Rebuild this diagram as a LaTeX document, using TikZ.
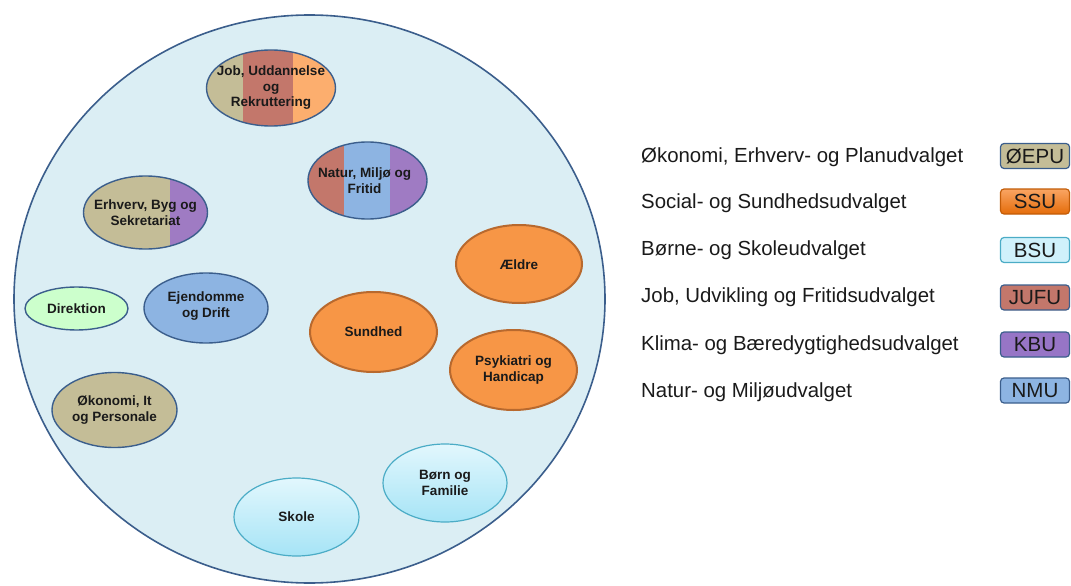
\documentclass[tikz,border=0pt]{standalone}
\usepackage{fontspec}
\setmainfont{Liberation Sans}
\usetikzlibrary{shapes.geometric}
\definecolor{bgfill}{HTML}{DBEEF4}
\definecolor{bgline}{HTML}{3B5E8C}
\definecolor{tanc}{HTML}{C4BD97}
\definecolor{redc}{HTML}{C3776B}
\definecolor{orangec}{HTML}{F79646}
\definecolor{orangeline}{HTML}{B8692E}
\definecolor{lorangec}{HTML}{FCAE6E}
\definecolor{bluec}{HTML}{8DB4E2}
\definecolor{purplec}{HTML}{9F7BC3}
\definecolor{greenc}{HTML}{CCFFCC}
\definecolor{cyantop}{HTML}{E2F7FD}
\definecolor{cyanbot}{HTML}{A6E4F6}
\definecolor{cyanline}{HTML}{4BACC6}
\definecolor{ssutop}{HTML}{FAA563}
\definecolor{ssubot}{HTML}{E46C0A}
\definecolor{txt}{HTML}{1A1A1A}
\tikzset{
  unit/.style={ellipse, draw=bgline, line width=1.4pt, inner sep=0pt},
  orangeunit/.style={unit, fill=orangec, draw=orangeline, line width=2pt},
  cyanunit/.style={unit, top color=cyantop, bottom color=cyanbot, draw=cyanline, line width=1.2pt},
  lbl/.style={inner sep=0pt, align=center, font=\fontsize{13.5}{15.5}\selectfont\bfseries, text=txt},
  legtext/.style={anchor=west, inner sep=0pt, font=\fontsize{20.4}{22}\selectfont, text=txt},
  legbox/.style={rounded corners=3.5pt, minimum width=69, minimum height=25, inner sep=0pt,
    line width=1.2pt, font=\fontsize{20.5}{22}\selectfont, text=txt},
}
\begin{document}
\begin{tikzpicture}[x=1pt,y=-1pt]
\useasboundingbox (0,0) rectangle (1071,586);
% big circle
\node[ellipse, draw=bgline, fill=bgfill, line width=1.6pt, minimum width=591, minimum height=568, inner sep=0pt] (world) at (309.5,299) {};

% striped units
\begin{scope}
  \clip (271,88) ellipse [x radius=64.5pt, y radius=38pt];
  \fill[tanc] (200,40) rectangle (242.5,140);
  \fill[redc] (242.5,40) rectangle (293,140);
  \fill[lorangec] (293,40) rectangle (345,140);
\end{scope}
\node[unit, minimum width=129, minimum height=76] (job) at (271,88) {};
\node[lbl] (jobt) at (job) {Job, Uddannelse\\og\\Rekruttering};

\begin{scope}
  \clip (367.5,180.5) ellipse [x radius=59.5pt, y radius=38.5pt];
  \fill[redc] (300,130) rectangle (343.5,230);
  \fill[bluec] (343.5,130) rectangle (390,230);
  \fill[purplec] (390,130) rectangle (440,230);
\end{scope}
\node[unit, minimum width=119, minimum height=77] (natur) at (367.5,180.5) {};
\node[lbl] (naturt) at ([xshift=-3]natur.center) {Natur, Miljø og\\Fritid};

\begin{scope}
  \clip (145.5,212.5) ellipse [x radius=62pt, y radius=36.5pt];
  \fill[tanc] (70,160) rectangle (170,260);
  \fill[purplec] (170,160) rectangle (220,260);
\end{scope}
\node[unit, minimum width=124, minimum height=73] (erhverv) at (145.5,212.5) {};
\node[lbl] (erhvervt) at (erhverv) {Erhverv, Byg og\\Sekretariat};

% plain units
\node[unit, fill=greenc, minimum width=103, minimum height=43] (direktion) at (76.5,308.5) {};
\node[lbl] at (direktion) {Direktion};
\node[unit, fill=bluec, minimum width=124, minimum height=70] (ejendom) at (206,308) {};
\node[lbl] at ([yshift=2]ejendom.center) {Ejendomme\\og Drift};
\node[unit, fill=tanc, minimum width=125, minimum height=75] (oekonomi) at (114.5,410) {};
\node[lbl] at (oekonomi) {Økonomi, It\\og Personale};

\node[orangeunit, minimum width=126, minimum height=78] (aeldre) at (519,264) {};
\node[lbl] at ([yshift=-1]aeldre.center) {Ældre};
\node[orangeunit, minimum width=127, minimum height=80] (sundhed) at (373.5,332) {};
\node[lbl] at (sundhed) {Sundhed};
\node[orangeunit, minimum width=127, minimum height=80] (psyk) at (513.5,370) {};
\node[lbl] at (psyk) {Psykiatri og\\Handicap};

\node[cyanunit, minimum width=125, minimum height=78] (skole) at (296.5,517) {};
\node[lbl] at (skole) {Skole};
\node[cyanunit, minimum width=124, minimum height=78] (boern) at (445,483) {};
\node[lbl] at (boern) {Børn og\\Familie};

% legend
\node[legtext] (l1) at (641,157) {Økonomi, Erhverv- og Planudvalget};
\node[legtext] (l2) at (641,203.5) {Social- og Sundhedsudvalget};
\node[legtext] (l3) at (641,250.5) {Børne- og Skoleudvalget};
\node[legtext] (l4) at (641,297.5) {Job, Udvikling og Fritidsudvalget};
\node[legtext] (l5) at (641,345) {Klima- og Bæredygtighedsudvalget};
\node[legtext] (l6) at (641,392) {Natur- og Miljøudvalget};

\node[legbox, fill=tanc, draw=bgline] (b1) at (1035,156) {ØEPU};
\node[legbox, top color=ssutop, bottom color=ssubot, draw=ssubot!85!black] (b2) at (1035,201.5) {SSU};
\node[legbox, fill=cyantop!70!cyanbot, draw=cyanline] (b3) at (1035,250) {BSU};
\node[legbox, fill=redc, draw=bgline] (b4) at (1035,297.5) {JUFU};
\node[legbox, fill=purplec!95!blue, draw=bgline] (b5) at (1035,344.5) {KBU};
\node[legbox, fill=bluec, draw=bgline] (b6) at (1035,390.5) {NMU};
\end{tikzpicture}
\end{document}
